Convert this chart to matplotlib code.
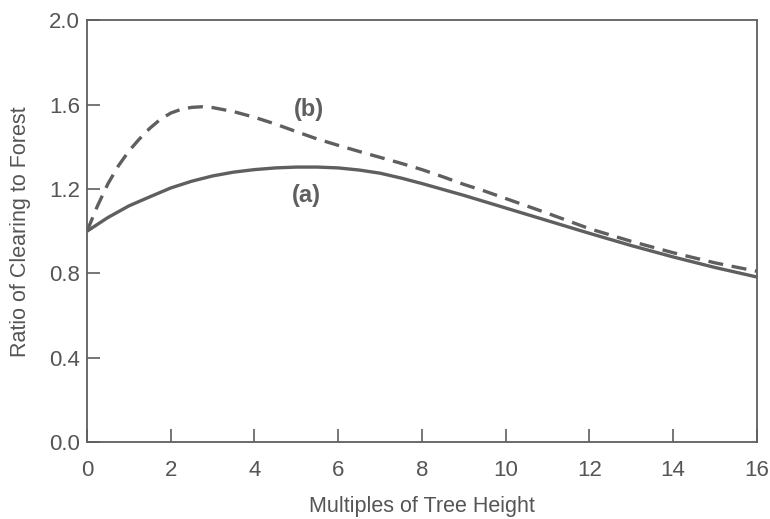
import matplotlib
matplotlib.use("Agg")
import matplotlib.pyplot as plt

plt.rcParams['font.family'] = ['Liberation Sans', 'DejaVu Sans']

# curve (a), solid
xa = [0, 0.5, 1, 1.5, 2, 2.5, 3, 3.5, 4, 4.5, 5, 5.5, 6, 6.5, 7, 7.5, 8,
      8.5, 9, 9.5, 10, 11, 12, 13, 14, 15, 16]
ya = [1.00, 1.065, 1.12, 1.163, 1.205, 1.237, 1.262, 1.28, 1.292, 1.30, 1.304,
      1.304, 1.30, 1.29, 1.275, 1.252, 1.226, 1.198, 1.17, 1.14, 1.11, 1.05,
      0.99, 0.932, 0.878, 0.828, 0.783]

# curve (b), dashed
xb = [0, 0.25, 0.5, 0.75, 1, 1.25, 1.5, 1.75, 2, 2.25, 2.5, 2.75, 3, 3.5, 4,
      4.5, 5, 5.5, 6, 6.5, 7, 7.5, 8, 8.5, 9, 9.5, 10, 11, 12, 13, 14, 15, 16]
yb = [1.00, 1.12, 1.225, 1.31, 1.38, 1.437, 1.488, 1.53, 1.56, 1.578, 1.587,
      1.59, 1.586, 1.567, 1.54, 1.508, 1.472, 1.437, 1.407, 1.378, 1.35, 1.322,
      1.292, 1.258, 1.222, 1.19, 1.155, 1.085, 1.012, 0.952, 0.898, 0.85, 0.81]

xticks = [0, 2, 4, 6, 8, 10, 12, 14, 16]
yticks = [0.0, 0.4, 0.8, 1.2, 1.6, 2.0]

grey = '#5f5f5f'
txt = '#555555'

fig = plt.figure(figsize=(7.7, 5.19), dpi=100)
ax = fig.add_axes([0.113, 0.148, 0.870, 0.813])

ax.plot(xa, ya, color=grey, lw=2.4, solid_capstyle='butt')
ax.plot(xb, yb, color=grey, lw=2.4, dashes=(4.5, 2.6))

ax.text(5.24, 1.17, '(a)', fontsize=17, fontweight='bold', color=grey,
        ha='center', va='center')
ax.text(5.3, 1.575, '(b)', fontsize=17, fontweight='bold', color=grey,
        ha='center', va='center')

ax.set_xlim(0, 16)
ax.set_ylim(0, 2.0)
ax.set_xticks(xticks)
ax.set_xticklabels([str(t) for t in xticks])
ax.set_yticks(yticks)
ax.set_yticklabels(['%.1f' % t for t in yticks])

for s in ax.spines.values():
    s.set_color(grey)
    s.set_linewidth(1.3)

ax.tick_params(axis='x', direction='in', length=9.5, width=1.2, color=grey,
               labelsize=16, labelcolor=txt, pad=12.5)
ax.tick_params(axis='y', direction='in', length=9.5, width=1.2, color=grey,
               labelsize=16, labelcolor=txt, pad=5)

ax.set_xlabel('Multiples of Tree Height', fontsize=15.5, color=txt, labelpad=11)
ax.set_ylabel('Ratio of Clearing to Forest', fontsize=15.5, color=txt, labelpad=13)

fig.savefig('out.png', dpi=100)
